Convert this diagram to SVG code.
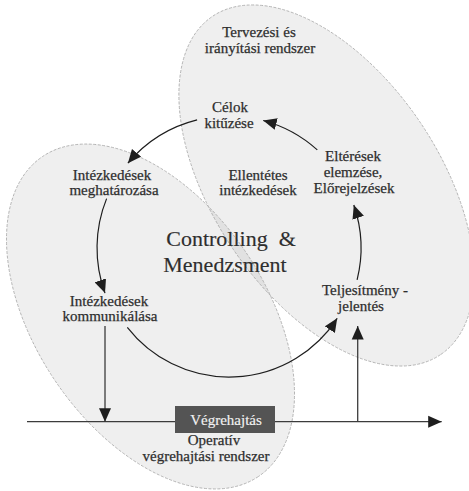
<svg xmlns="http://www.w3.org/2000/svg" width="469" height="491" viewBox="0 0 469 491">
  <style>
    .zone { fill: #a0a0a0; fill-opacity: 0.17; stroke: #ababab; stroke-width: 0.8; stroke-dasharray: 3 1.5; }
    .lbl { font-family: "Liberation Serif", "Times New Roman", "DejaVu Serif", serif; font-size: 15px; fill: #2e2e2e; stroke: #2e2e2e; stroke-width: 0.25; text-anchor: middle; }
    .big { font-size: 22px; stroke-width: 0.15; white-space: pre; }
    .inv { fill: #f2f2f2; stroke: #f2f2f2; stroke-width: 0.15; }
    .flow { fill: none; stroke: #1e1e1e; stroke-width: 1.2; marker-end: url(#head); }
    .axis { fill: none; stroke: #3c3c3c; stroke-width: 1.3; marker-end: url(#head); }
  </style>
  <defs>
    <marker id="head" markerUnits="userSpaceOnUse" markerWidth="15" markerHeight="13" refX="13.5" refY="6.5" orient="auto">
      <path d="M0,0.5 L13.5,6.5 L0,12.5 z" fill="#1e1e1e"/>
    </marker>
  </defs>

  <rect width="469" height="491" fill="#ffffff"/>

  <!-- system areas -->
  <g id="areas">
    <ellipse id="planning-area" class="zone" cx="326.5" cy="185.5" rx="204" ry="113" transform="rotate(56 326.5 185.5)"/>
    <ellipse id="operative-area" class="zone" cx="150.5" cy="316.5" rx="193" ry="115" transform="rotate(56 150.5 316.5)"/>
  </g>

  <!-- connectors -->
  <g id="connectors">
    <!-- control cycle, arcs around (229,248) -->
    <path class="flow" d="M317.3,149.9 A132,132 0 0 0 263.2,120.5"/>
    <path class="flow" d="M197.1,119.9 A132,132 0 0 0 127.9,163.2"/>
    <path class="flow" d="M106.6,198.6 A132,132 0 0 0 105,293.1"/>
    <path class="flow" d="M127.3,327.4 A129,129 0 0 0 337.2,318.3"/>
    <path class="flow" d="M357.1,279.9 A132,132 0 0 0 353.8,205"/>
    <!-- execution timeline and links -->
    <path class="axis" d="M27,421.7 H441.7"/>
    <path class="axis" d="M105,326 V421.7"/>
    <path class="axis" d="M357.7,421.7 V326"/>
  </g>

  <g id="planning-system">
    <text class="lbl" x="259" y="37">Tervezési és</text>
    <text class="lbl" x="260" y="53">irányítási rendszer</text>
  </g>

  <g id="goals">
    <text class="lbl" x="230" y="112">Célok</text>
    <text class="lbl" x="229" y="127.5">kitűzése</text>
  </g>

  <g id="define-actions">
    <text class="lbl" x="112" y="180">Intézkedések</text>
    <text class="lbl" x="114" y="195">meghatározása</text>
  </g>

  <g id="counter-actions">
    <text class="lbl" x="258" y="180">Ellentétes</text>
    <text class="lbl" x="258" y="195">intézkedések</text>
  </g>

  <g id="analysis">
    <text class="lbl" x="353" y="161">Eltérések</text>
    <text class="lbl" x="353" y="177">elemzése,</text>
    <text class="lbl" x="354" y="193">Előrejelzések</text>
  </g>

  <g id="controlling">
    <text class="lbl big" x="231" y="246">Controlling  &amp;</text>
    <text class="lbl big" x="225" y="272">Menedzsment</text>
  </g>

  <g id="communicate-actions">
    <text class="lbl" x="109" y="306">Intézkedések</text>
    <text class="lbl" x="110" y="321">kommunikálása</text>
  </g>

  <g id="performance-report">
    <text class="lbl" x="365" y="295">Teljesítmény -</text>
    <text class="lbl" x="361" y="311">jelentés</text>
  </g>

  <g id="execution">
    <rect x="175" y="406" width="100" height="27" fill="#545454"/>
    <text class="lbl inv" x="226" y="425">Végrehajtás</text>
  </g>

  <g id="operative-system">
    <text class="lbl" x="214" y="445">Operatív</text>
    <text class="lbl" x="206" y="461">végrehajtási rendszer</text>
  </g>
</svg>
